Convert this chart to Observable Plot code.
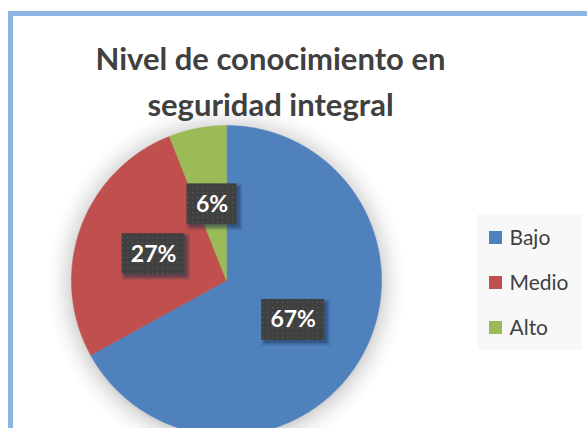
<!DOCTYPE html>
<html>
<head>
<meta charset="utf-8">
<script src="https://cdn.jsdelivr.net/npm/d3@7"></script>
<script src="https://cdn.jsdelivr.net/npm/@observablehq/plot@0.6"></script>
<style>
  html, body { margin: 0; padding: 0; background: #fff; overflow: hidden; }
  #chart svg { display: block; }
</style>
</head>
<body>
<div id="chart"></div>
<script>
const categories = ["Bajo", "Medio", "Alto"];
const values = [67, 27, 6];
const percentLabels = ["67%", "27%", "6%"];
const colors = ["#4f81bd", "#c0504d", "#9bbb59"];
const titleLines = ["Nivel de conocimiento en", "seguridad integral"];

const W = 587, H = 428;
const cx = 226, cy = 280, R = 155, glow = 24;

const arcs = d3.pie().sort(null).startAngle(0).endAngle(2 * Math.PI)(values);

const slices = arcs.map((a, i) => {
  const cat = categories[i];
  const pts = [{cat, x: cx, y: cy}];
  const n = Math.max(2, Math.ceil((a.endAngle - a.startAngle) / (Math.PI / 360)));
  for (let k = 0; k <= n; k++) {
    const t = a.startAngle + (a.endAngle - a.startAngle) * k / n;
    pts.push({cat, x: cx + R * Math.sin(t), y: cy - R * Math.cos(t)});
  }
  return pts;
});

const labelData = arcs.map((a, i) => {
  const m = (a.startAngle + a.endAngle) / 2;
  const text = percentLabels[i];
  const w = 24 + 13 * text.length;
  return {text, x: cx + 0.5 * R * Math.sin(m), y: cy - 0.5 * R * Math.cos(m), w, h: 41};
});

const legendData = categories.map((c, i) => ({cat: c, y: 237.5 + 45 * i}));

// soft shadow layers under each label box
const shadowLayers = [
  {grow: 0, op: 0.30},
  {grow: 1.5, op: 0.18},
  {grow: 3, op: 0.10}
];
const boxShadows = labelData.flatMap(d => shadowLayers.map(s => ({...d, grow: s.grow, op: s.op})));

const plot = Plot.plot({
  width: W,
  height: H,
  margin: 0,
  style: {overflow: "hidden", background: "#fff"},
  x: {domain: [0, W], range: [0, W], axis: null},
  y: {domain: [0, H], range: [0, H], axis: null},
  color: {domain: categories, range: colors},
  marks: [
    // soft glow behind pie
    Plot.dot([0], {x: cx, y: cy + 2, r: R + glow, fill: "url(#pieGlow)", stroke: "none"}),
    Plot.rect([0], {x1: 10.5, x2: W + 20, y1: 13.5, y2: H + 20, fill: "none", stroke: "#8db4e2", strokeWidth: 5}),
    Plot.text([titleLines[0]], {x: 270, y: 69, text: d => d, lineAnchor: "bottom", textAnchor: "middle",
      fontFamily: "Lato", fontWeight: "bold", fontSize: 31, fill: "#404040"}),
    Plot.text([titleLines[1]], {x: 270, y: 115, text: d => d, lineAnchor: "bottom", textAnchor: "middle",
      fontFamily: "Lato", fontWeight: "bold", fontSize: 31, fill: "#404040"}),
    Plot.rect([0], {x1: 477, x2: 582, y1: 214, y2: 350, fill: "#f8f8f8"}),
    ...slices.map((pts, i) => Plot.line(pts, {x: "x", y: "y", fill: colors[i], stroke: colors[i], strokeWidth: 0.5,
      curve: "linear-closed"})),
    Plot.rect(boxShadows, {x1: d => d.x - d.w / 2 + 3 - d.grow, x2: d => d.x + d.w / 2 + 3 + d.grow,
      y1: d => d.y - d.h / 2 + 3 - d.grow, y2: d => d.y + d.h / 2 + 3 + d.grow,
      fill: "#17304f", fillOpacity: d => d.op}),
    Plot.rect(labelData, {x1: d => d.x - d.w / 2, x2: d => d.x + d.w / 2, y1: d => d.y - d.h / 2, y2: d => d.y + d.h / 2,
      fill: "url(#dots)"}),
    Plot.text(labelData, {x: "x", y: "y", text: "text", fill: "#ffffff", fontFamily: "Lato", fontWeight: "bold",
      fontSize: 23, textAnchor: "middle", lineAnchor: "middle"}),
    Plot.rect(legendData, {x1: 489, x2: 502, y1: d => d.y - 6.5, y2: d => d.y + 6.5, fill: "cat"}),
    Plot.text(legendData, {x: 509, y: d => d.y + 7, text: "cat", textAnchor: "start", lineAnchor: "bottom",
      fontFamily: "Lato", fontSize: 21, fill: "#404040"})
  ]
});

const svg = d3.select(plot);
const defs = svg.insert("defs", ":first-child");
const pat = defs.append("pattern").attr("id", "dots").attr("width", 5).attr("height", 5).attr("patternUnits", "userSpaceOnUse");
pat.append("rect").attr("width", 5).attr("height", 5).attr("fill", "#404040");
pat.append("rect").attr("x", 2).attr("y", 2).attr("width", 1.4).attr("height", 1.4).attr("fill", "#545454");
const rg = defs.append("radialGradient").attr("id", "pieGlow").attr("cx", "50%").attr("cy", "50%").attr("r", "50%");
const inner = (R - 6) / (R + glow);
[[0, 0.25], [inner, 0.25], [inner + (1 - inner) * 0.3, 0.12], [inner + (1 - inner) * 0.65, 0.04], [1, 0]].forEach(([o, op]) => {
  rg.append("stop").attr("offset", o).attr("stop-color", "#000").attr("stop-opacity", op);
});
document.getElementById("chart").appendChild(plot);
</script>
</body>
</html>
